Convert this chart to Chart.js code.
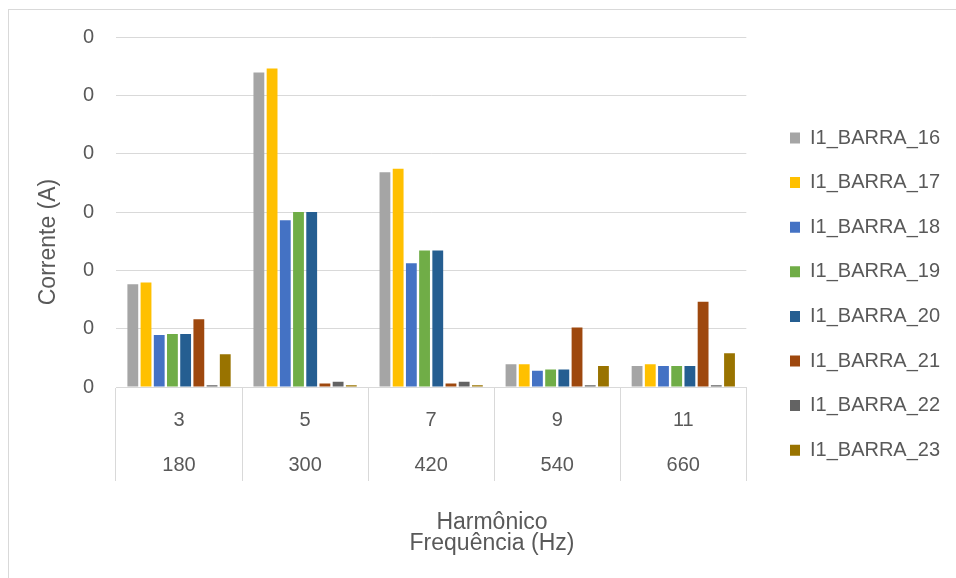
<!DOCTYPE html>
<html>
<head>
<meta charset="utf-8">
<script src="https://cdn.jsdelivr.net/npm/chart.js@4.4.1/dist/chart.umd.min.js"></script>
<style>
    body { margin: 0; background: #fff; overflow: hidden; }
    .moldura { position: absolute; left: 8px; top: 9px; width: 1000px; height: 1000px; border: 1px solid #d9d9d9; }
    .grafico-box { position: absolute; left: 0; top: 0; width: 956px; height: 578px; }
</style>
</head>
<body>
<div class="moldura"></div>
<div class="grafico-box"><canvas id="grafico" width="956" height="578"></canvas></div>
<script>
// dados
const harmonicos = ['3', '5', '7', '9', '11'];
const frequencias = ['180', '300', '420', '540', '660'];

const barra16 = [0.176, 0.539, 0.368, 0.039, 0.036];
const barra17 = [0.179, 0.546, 0.374, 0.039, 0.039];
const barra18 = [0.089, 0.286, 0.212, 0.028, 0.036];
const barra19 = [0.091, 0.300, 0.234, 0.030, 0.036];
const barra20 = [0.091, 0.300, 0.234, 0.030, 0.036];
const barra21 = [0.116, 0.006, 0.006, 0.102, 0.146];
const barra22 = [0.003, 0.009, 0.009, 0.003, 0.003];
const barra23 = [0.056, 0.003, 0.003, 0.036, 0.058];

const nomesSeries = ['I1_BARRA_16', 'I1_BARRA_17', 'I1_BARRA_18', 'I1_BARRA_19',
                     'I1_BARRA_20', 'I1_BARRA_21', 'I1_BARRA_22', 'I1_BARRA_23'];
const valoresSeries = [barra16, barra17, barra18, barra19, barra20, barra21, barra22, barra23];
const coresSeries = ['#A5A5A5', '#FFC000', '#4472C4', '#70AD47', '#255E91', '#9E480E', '#636363', '#997300'];

// eixo y: 0 ate 0.6, rotulos sem casas decimais (todos aparecem como "0")
const yMin = 0;
const yMax = 0.6;
const yPasso = 0.1;

const corTexto = '#595959';
const corLinha = '#d9d9d9';
const fonte = '"Liberation Sans", Arial, sans-serif';

// margens do layout
const padEsq = 53;
const padDir = 25;

// titulo do eixo y desenhado na mao (excel centraliza diferente)
const tituloY = {
    id: 'tituloY',
    afterDraw(chart) {
        const ctx = chart.ctx;
        ctx.save();
        ctx.translate(49, 242);
        ctx.rotate(-Math.PI / 2);
        ctx.font = '23px ' + fonte;
        ctx.fillStyle = corTexto;
        ctx.textAlign = 'center';
        ctx.textBaseline = 'middle';
        ctx.fillText('Corrente (A)', 0, 0);
        ctx.restore();
    }
};

// legenda no lugar certo
const ajusteLegenda = {
    id: 'ajusteLegenda',
    afterLayout(chart) {
        const lg = chart.legend;
        const pad = lg.options.labels.padding;
        const w = lg.width;
        lg.left = 790 - pad;
        lg.right = lg.left + w;
        lg.top = 128 - pad;
        lg.bottom = 578;
    }
};

const datasets = nomesSeries.map((nome, i) => ({
    label: nome,
    data: valoresSeries[i],
    backgroundColor: coresSeries[i],
    borderWidth: 0,
    categoryPercentage: 0.838,
    barPercentage: 0.82
}));

const ctx = document.getElementById('grafico');
new Chart(ctx, {
    type: 'bar',
    data: {
        labels: harmonicos.map((h, i) => [h, frequencias[i]]),
        datasets: datasets
    },
    options: {
        responsive: false,
        animation: false,
        layout: { padding: { left: padEsq, right: padDir, top: 37, bottom: 0 } },
        plugins: {
            legend: {
                position: 'right',
                align: 'start',
                labels: {
                    color: corTexto,
                    font: { family: fonte, size: 20 },
                    boxWidth: 10,
                    boxHeight: 11,
                    padding: 24.6
                }
            },
            title: {
                display: true,
                position: 'bottom',
                text: ['Harmônico', 'Frequência (Hz)'],
                color: corTexto,
                font: { family: fonte, size: 23, weight: 'normal', lineHeight: 21 / 23 },
                padding: { top: 0, bottom: 24 }
            },
            tooltip: { enabled: false }
        },
        scales: {
            x: {
                grid: { display: true, drawOnChartArea: false, drawTicks: true, tickLength: 94, color: corLinha, offset: true },
                border: { display: true, color: corLinha },
                ticks: {
                    color: corTexto,
                    font: { family: fonte, size: 20, lineHeight: 2.25 },
                    padding: 10.5 - 94,
                    maxRotation: 0,
                    autoSkip: false
                },
                afterFit(scale) { scale.height = 125; }
            },
            y: {
                min: yMin,
                max: yMax,
                grid: { color: corLinha, drawTicks: false },
                border: { display: false },
                ticks: {
                    stepSize: yPasso,
                    color: corTexto,
                    font: { family: fonte, size: 20 },
                    padding: 22,
                    callback: v => String(Math.floor(v))
                },
                afterFit(scale) { scale.width = 116 - padEsq; }
            }
        }
    },
    plugins: [tituloY, ajusteLegenda]
});
</script>
</body>
</html>
